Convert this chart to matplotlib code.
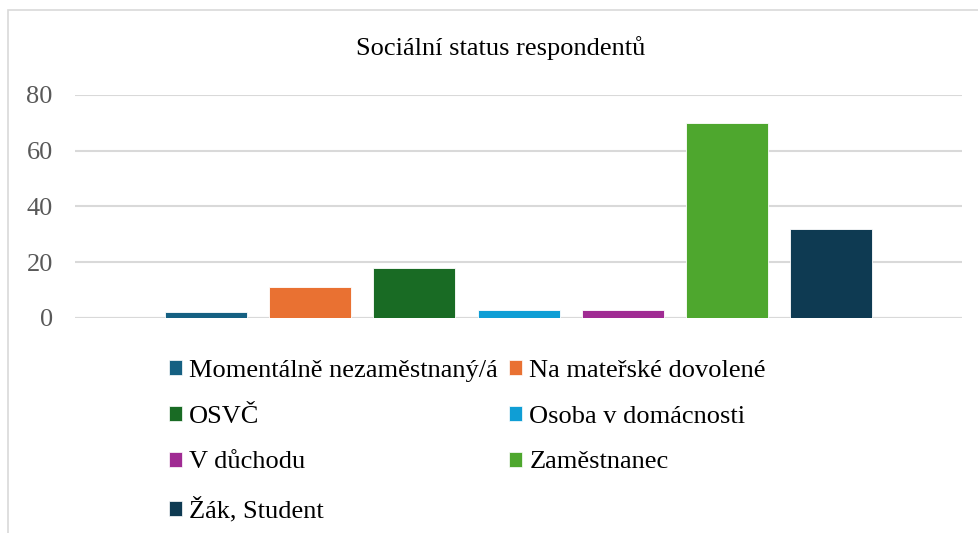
import matplotlib.pyplot as plt
from matplotlib.patches import Rectangle, Patch

plt.rcParams['font.family'] = ['Liberation Serif', 'DejaVu Serif']

# data
categories = ["Momentálně nezaměstnaný/á", "Na mateřské dovolené", "OSVČ",
              "Osoba v domácnosti", "V důchodu", "Zaměstnanec", "Žák, Student"]
values = [2, 11, 18, 3, 3, 70, 32]
colors = ["#156082", "#E97132", "#196B24", "#0F9ED5", "#A02B93", "#4EA72E", "#0E3A52"]
yticks = [0, 20, 40, 60, 80]

W, H = 979, 533
fig = plt.figure(figsize=(W / 100, H / 100), dpi=100)

# chart area frame
fig.patches.append(Rectangle((8 / W, -0.1), 1.2, 1 - 10 / H + 0.1,
                             transform=fig.transFigure, fill=False,
                             edgecolor="#D9D9D9", linewidth=1.2))

ax = fig.add_axes([75 / W, 1 - 318 / H, (962 - 75) / W, (318 - 95) / H])
xs = range(len(values))
ax.bar(xs, values, width=0.787, color=colors, edgecolor="white",
       linewidth=0.6, zorder=3)

ax.set_xlim(-1.257, 7.255)
ax.set_ylim(0, 80)
ax.set_yticks(yticks)
ax.set_xticks([])
ax.grid(axis="y", color="#D9D9D9", linewidth=1.5, zorder=0)
for s in ax.spines.values():
    s.set_visible(False)
ax.axhline(0, color="#D9D9D9", linewidth=1.5, zorder=2)
ax.tick_params(axis="y", length=0, pad=16, labelsize=19, labelcolor="#595959")

fig.text(501 / W, 1 - 48 / H, "Sociální status respondentů", ha="center",
         va="center", fontsize=19, color="#000000")

# legend: row-wise order, two columns
handles = [Patch(facecolor=c, edgecolor="white", linewidth=0.5) for c in colors]
order = [0, 2, 4, 6, 1, 3, 5]
fig.legend([handles[i] for i in order], [categories[i] for i in order],
           ncol=2, loc="upper left", bbox_to_anchor=(169 / W, 1 - 360 / H),
           frameon=False, fontsize=19, handlelength=0.5, handleheight=0.5,
           handletextpad=0.27, columnspacing=0.42, labelspacing=0.9,
           borderpad=0, borderaxespad=0)

fig.savefig("out.png", dpi=100)
